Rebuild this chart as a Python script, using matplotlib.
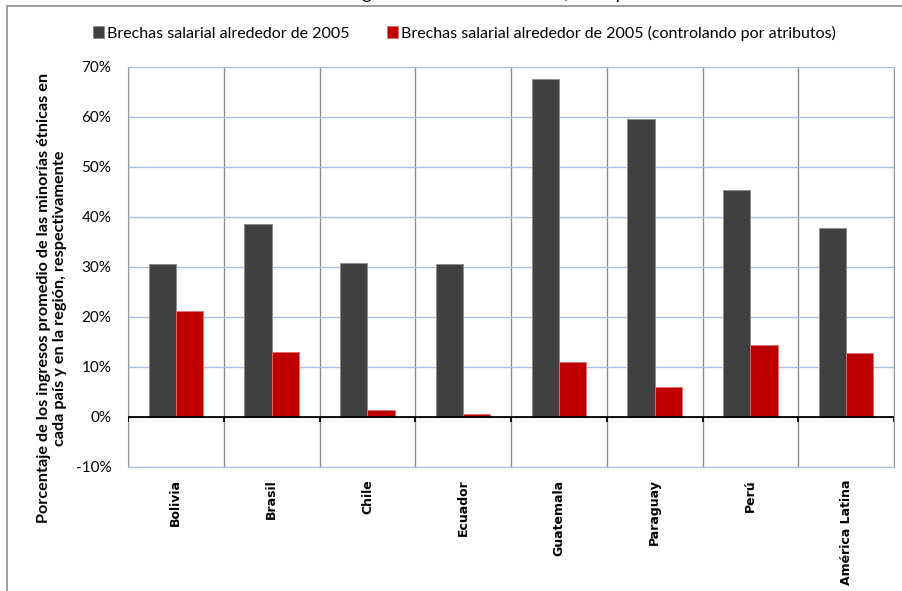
import matplotlib
matplotlib.use("Agg")
import matplotlib.pyplot as plt
from matplotlib.patches import Rectangle
import numpy as np

# Datos (%)
paises = ["Bolivia", "Brasil", "Chile", "Ecuador", "Guatemala", "Paraguay", "Perú", "América Latina"]
brecha = [30.6, 38.6, 30.8, 30.6, 67.7, 59.6, 45.5, 37.8]
brecha_controlada = [21.2, 13.1, 1.4, 0.7, 11.0, 6.0, 14.4, 12.9]

serie1 = "Brechas salarial alrededor de 2005"
serie2 = "Brechas salarial alrededor de 2005 (controlando por atributos)"
etiqueta_y = ("Porcentaje de los ingresos promedio de las minorías étnicas en\n"
              "cada país y en la región, respectivamente")
titulo = "Brechas de ingresos alrededor de 2005, en el país"

plt.rcParams["font.family"] = ["Lato", "DejaVu Sans"]

fig = plt.figure(figsize=(9.02, 5.91), dpi=100)
ax = fig.add_axes([128 / 902, 124 / 591, 766 / 902, 400 / 591])

x = np.arange(len(paises))
ancho = 0.284
ax.bar(x - ancho / 2, brecha, ancho, color="#404040", edgecolor="#8a8a8a",
       linewidth=0.6, label=serie1, zorder=3)
ax.bar(x + ancho / 2, brecha_controlada, ancho, color="#C00000", edgecolor="#e07070",
       linewidth=0.6, label=serie2, zorder=3)

ax.set_xlim(-0.5, len(paises) - 0.5)
ax.set_ylim(-10, 70)
ax.set_yticks(range(-10, 71, 10))
ax.set_yticklabels([f"{v}%" for v in range(-10, 71, 10)], fontsize=11)
ax.tick_params(axis="y", length=0, pad=12)

# etiquetas de país y líneas de separación
ax.set_xticks(x)
ax.set_xticklabels(paises, rotation=90, fontsize=9, fontweight="bold",
                   family="DejaVu Sans")
ax.tick_params(axis="x", length=0, pad=9)
limites = np.arange(len(paises) + 1) - 0.5
ax.set_xticks(limites, minor=True)
ax.tick_params(axis="x", which="minor", length=0)
ax.grid(axis="x", which="minor", color="#8c8c8c", linewidth=1.0, zorder=1)
ax.grid(axis="y", which="major", color="#a9c0e4", linewidth=1.0, zorder=1)

# eje en cero con marcas
ax.axhline(0, color="black", linewidth=1.3, zorder=4)
ax.vlines(limites, -1.0, 0, color="black", linewidth=1.3, zorder=4)

for lado in ["top", "bottom"]:
    ax.spines[lado].set_color("#a9c0e4")
for lado in ["left", "right"]:
    ax.spines[lado].set_color("#9a9a9a")

fig.text(52 / 902, 1 - 298 / 591, etiqueta_y, rotation=90, ha="center", va="center",
         fontsize=11.7, fontweight="bold", linespacing=1.15)

fig.legend(loc="center", bbox_to_anchor=(0.515, 1 - 33 / 591), ncol=2, frameon=False,
           fontsize=11.5, handlelength=0.7, handleheight=0.7, handletextpad=0.2,
           columnspacing=2.3)

# título recortado en el borde superior
fig.text(0.5, 1 + 1 / 591, titulo, ha="center", va="baseline", fontsize=13)

# marco del gráfico
fig.patches.append(Rectangle((7 / 902, -0.05), 1.0, 1 - 6 / 591 + 0.05,
                             transform=fig.transFigure, fill=False,
                             edgecolor="#8c8c8c", linewidth=1.2))

fig.savefig("out.png", dpi=100)
